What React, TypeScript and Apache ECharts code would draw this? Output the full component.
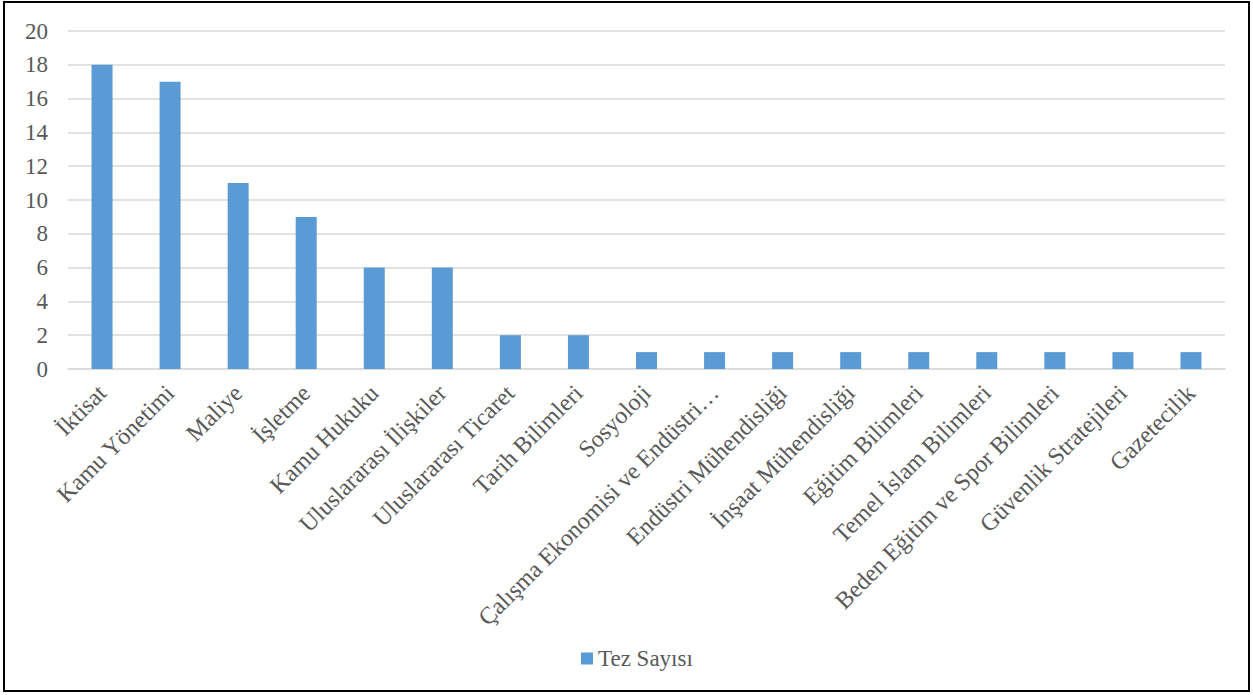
import React, { useEffect, useRef } from "react";
import * as echarts from "echarts";

const categories = [
  "İktisat",
  "Kamu Yönetimi",
  "Maliye",
  "İşletme",
  "Kamu Hukuku",
  "Uluslararası İlişkiler",
  "Uluslararası Ticaret",
  "Tarih Bilimleri",
  "Sosyoloji",
  "Çalışma Ekonomisi ve Endüstri…",
  "Endüstri Mühendisliği",
  "İnşaat Mühendisliği",
  "Eğitim Bilimleri",
  "Temel İslam Bilimleri",
  "Beden Eğitim ve Spor Bilimleri",
  "Güvenlik Stratejileri",
  "Gazetecilik",
];
const values = [18, 17, 11, 9, 6, 6, 2, 2, 1, 1, 1, 1, 1, 1, 1, 1, 1];
const seriesName = "Tez Sayısı";

const FONT = "Liberation Serif";
const TEXT = "#595959";

export default function App() {
  const ref = useRef<HTMLDivElement>(null);
  useEffect(() => {
    document.body.style.margin = "0";
    const chart = echarts.init(ref.current!, null, { renderer: "svg" });
    chart.setOption({
      animation: false,
      backgroundColor: "#ffffff",
      textStyle: { fontFamily: FONT },
      graphic: [
        {
          type: "rect",
          shape: { x: 4, y: 2, width: 1245, height: 689 },
          style: { fill: "none", stroke: "#000", lineWidth: 2 },
          silent: true,
          z: 100,
        },
      ],
      grid: { left: 68, right: 28, top: 31, bottom: 326, containLabel: false },
      legend: {
        left: 576,
        top: 642,
        itemWidth: 12,
        itemHeight: 12,
        itemGap: 8,
        icon: "rect",
        textStyle: { fontFamily: FONT, fontSize: 23, color: TEXT },
        data: [seriesName],
      },
      xAxis: {
        type: "category",
        data: categories,
        axisLine: { lineStyle: { color: "#d9d9d9", width: 1.5 } },
        axisTick: { show: false },
        axisLabel: {
          rotate: 45,
          interval: 0,
          fontFamily: FONT,
          fontSize: 24,
          color: TEXT,
          margin: 20,
        },
      },
      yAxis: {
        type: "value",
        min: 0,
        max: 20,
        interval: 2,
        axisLine: { show: false },
        axisTick: { show: false },
        splitLine: { lineStyle: { color: "#d9d9d9", width: 1.5 } },
        axisLabel: { fontFamily: FONT, fontSize: 23, color: TEXT, margin: 20 },
      },
      series: [
        {
          name: seriesName,
          type: "bar",
          data: values,
          barWidth: 21,
          itemStyle: { color: "#5b9bd5" },
        },
      ],
    });
    return () => chart.dispose();
  }, []);
  return <div ref={ref} style={{ width: 1253, height: 695 }} />;
}
